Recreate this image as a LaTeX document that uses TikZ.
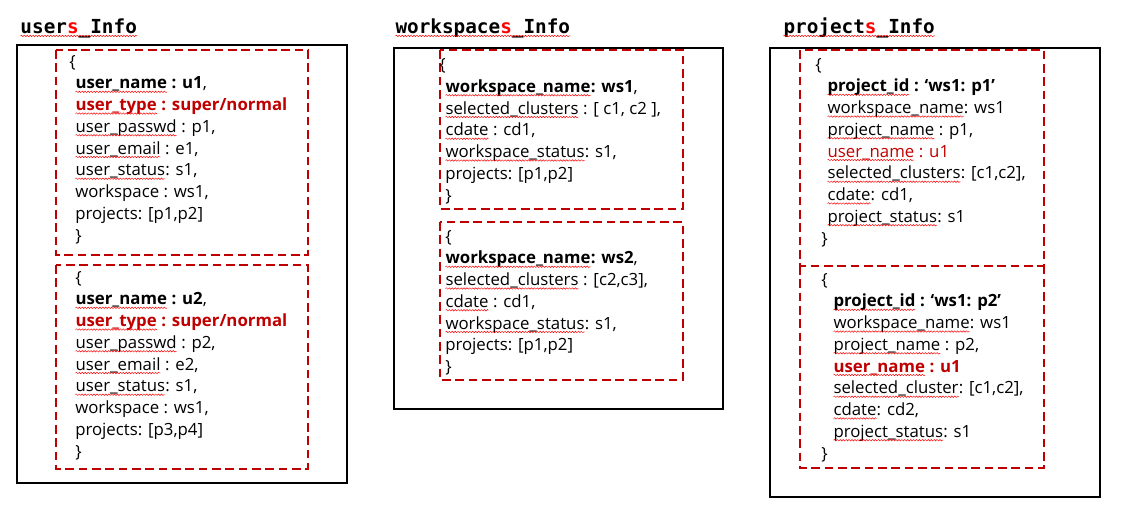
\documentclass[tikz,border=0pt]{standalone}
\usepackage{fontspec}
\setmainfont{Open Sans}
\newfontfamily\titlefont{DejaVu Sans Mono}
\usetikzlibrary{decorations.pathmorphing}
\definecolor{darkred}{HTML}{C00000}
\definecolor{brightred}{HTML}{FF0000}
\newcommand{\ind}{\hspace*{4.5pt}}
\newcommand{\indd}{\hspace*{9pt}}
% red wavy spelling mark under a word
\newcommand{\sq}[1]{\tikz[baseline=(sqw.base), x=1cm, y=1cm]{%
  \node[inner sep=0pt, outer sep=0pt, anchor=base west] (sqw) {#1};
  \draw[sqwave] ([yshift=-2.2pt]sqw.base west) -- ([yshift=-2.2pt]sqw.base east);}}

\tikzset{
  outerbox/.style={draw=black, line width=1.5pt},
  recbox/.style={draw=darkred, line width=1.8pt, dash pattern=on 6.5pt off 3.5pt},
  rectext/.style={anchor=base west, align=left, inner sep=0pt,
    font=\fontsize{12.6}{16.3}\selectfont},
  infotitle/.style={anchor=base west, inner sep=0pt,
    font=\titlefont\bfseries\fontsize{14.5}{14.5}\selectfont},
  sqwave/.style={draw=brightred, line width=0.35pt, decorate,
    decoration={snake, amplitude=0.55pt, segment length=2.2pt}}
}

\begin{document}
\begin{tikzpicture}[x=0.75pt, y=-0.75pt]
  \useasboundingbox (0,0) rectangle (1121,512);

  % titles
  \node[infotitle] (usertitle) at (20,33) {\sq{user\textcolor{brightred}{s}\_Info}};
  \node[infotitle] (wstitle) at (395,33) {\sq{workspace\textcolor{brightred}{s}\_Info}};
  \node[infotitle] (projtitle) at (783,33) {\sq{project\textcolor{brightred}{s}\_Info}};

  % outer boxes
  \draw[outerbox] (17,45) rectangle (347,483);
  \draw[outerbox] (394,48) rectangle (723,409);
  \draw[outerbox] (770,48) rectangle (1100,497);

  % record boxes
  \draw[recbox] (56,50) rectangle (308,255);
  \draw[recbox] (56,265) rectangle (308,469);
  \draw[recbox] (440,50) rectangle (683,209);
  \draw[recbox] (440,222) rectangle (683,380);
  \draw[recbox] (800,50) rectangle (1044,266);
  \draw[recbox] (800,266) -- (800,468) -- (1044,468) -- (1044,266);

  % users (placed by the baseline of the closing brace)
  \node[rectext] (user1) at (69,241) {\{\\
    \ind\textbf{\sq{user\_name} : u1},\\
    \ind\textcolor{darkred}{\textbf{\sq{user\_type} : super/normal}}\\
    \ind\sq{user\_passwd} : p1,\\
    \ind\sq{user\_email} : e1,\\
    \ind\sq{user\_status}: s1,\\
    \ind workspace : ws1,\\
    \ind projects: [p1,p2]\\
    \ind\}};
  \node[rectext] (user2) at (75,457) {\{\\
    \textbf{\sq{user\_name} : u2},\\
    \textcolor{darkred}{\textbf{\sq{user\_type} : super/normal}}\\
    \sq{user\_passwd} : p2,\\
    \sq{user\_email} : e2,\\
    \sq{user\_status}: s1,\\
    workspace : ws1,\\
    projects: [p3,p4]\\
    \}};

  % workspaces
  \node[rectext] (ws1) at (439,201) {\{\\
    \ind\textbf{\sq{workspace\_name}: ws1},\\
    \ind\sq{selected\_clusters} : [ c1, c2 ],\\
    \ind\sq{cdate} : cd1,\\
    \ind\sq{workspace\_status}: s1,\\
    \ind projects: [p1,p2]\\
    \ind\}};
  \node[rectext] (ws2) at (445,372.5) {\{\\
    \textbf{\sq{workspace\_name}: ws2},\\
    \sq{selected\_clusters} : [c2,c3],\\
    \sq{cdate} : cd1,\\
    \sq{workspace\_status}: s1,\\
    projects: [p1,p2]\\
    \}};

  % projects
  \node[rectext] (proj1) at (815,244) {\{\\
    \indd\textbf{\sq{project\_id} : ‘ws1: p1’}\\
    \indd\sq{workspace\_name}: ws1\\
    \indd\sq{project\_name} : p1,\\
    \indd\textcolor{darkred}{\sq{user\_name} : u1}\\
    \indd\sq{selected\_clusters}: [c1,c2],\\
    \indd\sq{cdate}: cd1,\\
    \indd\sq{project\_status}: s1\\
    \ind\}};
  \node[rectext] (proj2) at (821,459) {\{\\
    \indd\textbf{\sq{project\_id} : ‘ws1: p2’}\\
    \indd\sq{workspace\_name}: ws1\\
    \indd\sq{project\_name} : p2,\\
    \indd\textcolor{darkred}{\textbf{\sq{user\_name} : u1}}\\
    \indd\sq{selected\_cluster}: [c1,c2],\\
    \indd\sq{cdate}: cd2,\\
    \indd\sq{project\_status}: s1\\
    \}};
\end{tikzpicture}
\end{document}
